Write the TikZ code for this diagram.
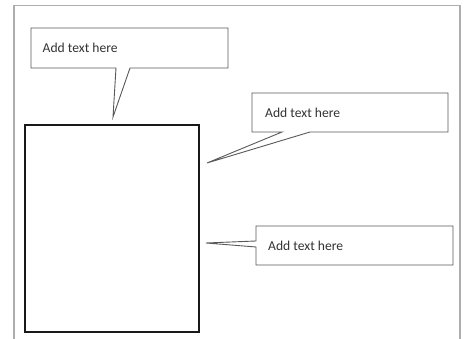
\documentclass[tikz,border=0pt]{standalone}
\usepackage{fontspec}
\setmainfont{Carlito}
\begin{document}
\begin{tikzpicture}[x=1pt,y=-1pt,
  frame/.style={draw=black!32,line width=1.5pt},
  callout/.style={draw=black!65,line width=0.9pt,fill=white,line join=miter},
  calltext/.style={anchor=west,inner sep=0pt,font=\fontsize{13.6}{16}\selectfont,text=black!80},
  mainbox/.style={draw=black!90,line width=2pt}]
\useasboundingbox (0,0) rectangle (464,339);
\fill[white] (0,0) rectangle (464,339);
% outer frame
\draw[frame] (14,339) -- (14,5.5) -- (460,5.5) -- (460,339);
% main rectangle
\draw[mainbox] (25,125) rectangle (199,332);
% callout 1
\coordinate (tipA) at (113,117);
\draw[callout] (31,28) -- (228,28) -- (228,68) -- (130,68) -- (tipA) -- (116,68) -- (31,68) -- cycle;
\node[calltext] (textA) at (42.5,48) {Add text here};
% callout 2
\coordinate (tipB) at (207,163);
\draw[callout] (252,93) -- (448,93) -- (448,132) -- (310,132) -- (tipB) -- (282,132) -- (252,132) -- cycle;
\node[calltext] (textB) at (265,112.5) {Add text here};
% callout 3
\coordinate (tipC) at (206,243);
\draw[callout] (256,226) -- (453,226) -- (453,265) -- (256,265) -- (256,247) -- (tipC) -- (256,241) -- cycle;
\node[calltext] (textC) at (268,245.5) {Add text here};
\end{tikzpicture}
\end{document}
